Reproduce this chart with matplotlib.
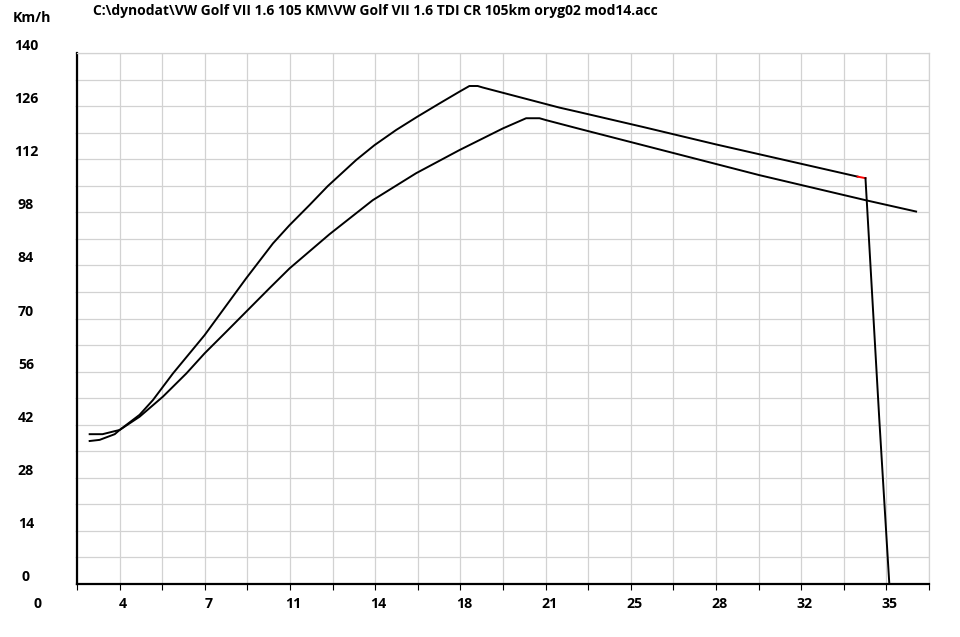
import numpy as np
import matplotlib
matplotlib.use("Agg")
import matplotlib.pyplot as plt
from matplotlib.transforms import offset_copy

title = r"C:\dynodat\VW Golf VII 1.6 105 KM\VW Golf VII 1.6 TDI CR 105km oryg02 mod14.acc"
y_unit = "Km/h"

# upper run (peaks near 18 s)
run1_x = [2.27, 2.80, 3.30, 3.50, 4.32, 4.87, 5.69, 6.99, 8.70, 9.80, 10.48, 11.30,
          12.05, 13.22, 13.97, 14.86, 15.73, 16.64, 17.46, 17.87, 18.21, 18.42, 21.57,
          22.39, 25.0, 28.0, 33.82]
run1_y = [39.5, 39.5, 40.3, 40.6, 44.6, 48.5, 55.5, 65.6, 80.6, 89.8, 94.6, 99.9,
          104.9, 111.8, 115.7, 119.7, 123.2, 126.7, 129.8, 131.3, 131.3, 130.9, 125.6,
          124.4, 120.5, 115.9, 107.4]
# short red piece at the end of run 1, then the drop to zero
run1_red_x = [33.82, 34.14]
run1_red_y = [107.4, 107.0]
run1_drop_x = [34.14, 34.71, 35.12]
run1_drop_y = [107.0, 43.2, 0.0]

# lower run (peaks near 20.5 s)
run2_x = [2.27, 2.68, 3.30, 3.50, 4.32, 5.28, 6.24, 6.99, 7.88, 8.70, 9.66, 10.48,
          12.12, 13.90, 15.68, 17.46, 19.24, 20.20, 20.75, 21.02, 22.39, 29.78, 34.14, 36.22]
run2_y = [37.7, 38.0, 39.5, 40.6, 44.1, 49.4, 55.5, 60.8, 66.5, 71.8, 78.0, 83.2,
          92.2, 101.2, 108.3, 114.4, 120.1, 122.8, 122.8, 122.3, 120.0, 107.8, 101.2, 98.2]

x_label_pos = [0, 3.5, 7, 10.5, 14, 17.5, 21, 24.5, 28, 31.5, 35]
x_labels = ["0", "4", "7", "11", "14", "18", "21", "25", "28", "32", "35"]
y_label_pos = [0, 14, 28, 42, 56, 70, 84, 98, 112, 126, 140]

font = "Open Sans"
grid_col = "#d2d2d2"

fig = plt.figure(figsize=(9.6, 6.37), dpi=100)
ax = fig.add_axes([77 / 960, 1 - 584 / 637, (929 - 77) / 960, (584 - 53) / 637])

ax.plot(run1_x, run1_y, color="black", lw=1.4)
ax.plot(run1_red_x, run1_red_y, color="red", lw=1.4)
ax.plot(run1_drop_x, run1_drop_y, color="black", lw=1.4)
ax.plot(run2_x, run2_y, color="black", lw=1.4)

ax.set_xlim(1.75, 36.75)
ax.set_ylim(0, 140)
ax.set_xticks(np.arange(1.75, 36.76, 1.75))
ax.set_yticks(np.arange(0, 140.1, 7))
ax.grid(True, color=grid_col, lw=0.9)
ax.set_axisbelow(True)
ax.tick_params(axis="x", length=4.3, width=0.8, color="black", labelbottom=False)
ax.tick_params(axis="y", length=1.5, width=0.8, color=grid_col, labelleft=False)
for s in ["top", "right"]:
    ax.spines[s].set_color(grid_col)
    ax.spines[s].set_linewidth(0.9)
for s in ["left", "bottom"]:
    ax.spines[s].set_linewidth(1.6)

xtr = offset_copy(ax.get_xaxis_transform(), fig=fig, x=3.5, y=-20, units="dots")
for p, lab in zip(x_label_pos, x_labels):
    ax.text(p, 0, lab, transform=xtr, ha="center", va="center", fontsize=10.2,
            fontweight="bold", family=font, clip_on=False)

ytr = offset_copy(ax.get_yaxis_transform(), fig=fig, x=26 - 77, y=7, units="dots")
for p in y_label_pos:
    ax.text(0, p, str(p), transform=ytr, ha="center", va="center", fontsize=10.2,
            fontweight="bold", family=font, clip_on=False)

fig.text(93 / 960, 1 - 11 / 637, title, ha="left", va="center", fontsize=10.0,
         fontweight="bold", family=font)
fig.text(13 / 960, 1 - 18 / 637, y_unit, ha="left", va="center", fontsize=10.2,
         fontweight="bold", family=font)

fig.savefig("out.png", dpi=100)
